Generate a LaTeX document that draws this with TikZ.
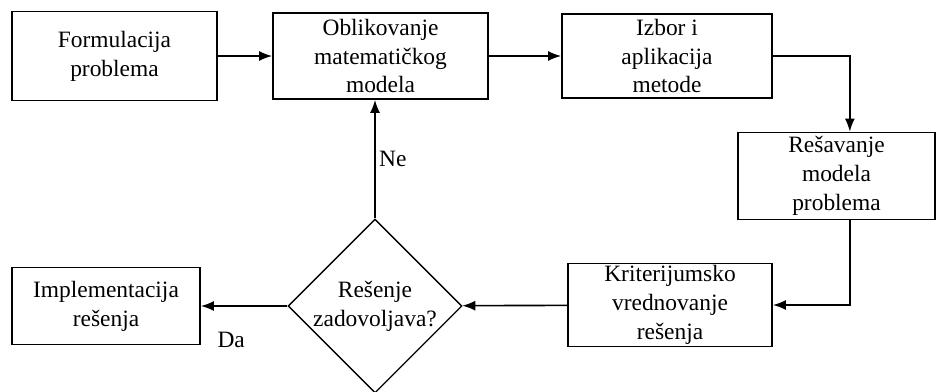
\documentclass[tikz,border=0pt]{standalone}
\usepackage{fontspec}
\setmainfont{Liberation Serif}
\usetikzlibrary{positioning,arrows.meta,shapes.geometric}

\begin{document}
\begin{tikzpicture}[
    x=0.03cm, y=-0.03cm,
    box/.style      = {draw,line width=1.5pt,align=center,inner sep=0pt,font=\fontsize{20}{24.7}\selectfont},
    decision/.style = {diamond,draw,line width=1.1pt,align=center,inner sep=0pt,minimum width=5.2cm,minimum height=5.0cm,font=\fontsize{20}{24.7}\selectfont},
    lbl/.style      = {inner sep=0pt,font=\fontsize{20}{24.7}\selectfont},
    ->, >={Latex[length=3.9mm,width=3mm]}, line width=1.4pt
  ]
  \useasboundingbox (0,0) rectangle (937,391);

  \node[box,minimum width=6.15cm,minimum height=2.67cm] (F)  at (114.5,56) {Formulacija\\problema};
  \node[box,minimum width=6.45cm,minimum height=2.58cm] (O)  at (380.5,56) {Oblikovanje\\matematičkog\\modela};
  \node[box,minimum width=6.30cm,minimum height=2.52cm] (I)  at (667,56)   {Izbor i\\aplikacija\\metode};
  \node[box,minimum width=5.91cm,minimum height=2.61cm] (R)  at (836.5,176) {Rešavanje\\modela\\problema};
  \node[box,minimum width=6.12cm,minimum height=2.49cm] (K)  at (670,305)  {Kriterijumsko\\vrednovanje\\rešenja};
  \node[decision] (D) at (375,306) {Rešenje\\zadovoljava?};
  \node[box,minimum width=5.64cm,minimum height=2.31cm] (Im) at (106,306)  {Implementacija\\rešenja};

  \draw (F) -- (O);
  \draw (O) -- (I);
  \draw (I.east) -| ([xshift=0.4cm]R.north);
  \draw ([xshift=0.4cm]R.south) |- (K.east);
  \draw (K) -- (D);
  \draw (D) -- node[lbl,pos=0.65,below=0.75cm] (da) {Da} (Im);
  \draw (D.north) -- node[lbl,right=0.1cm] (ne) {Ne} (D.north |- O.south);

\end{tikzpicture}
\end{document}
